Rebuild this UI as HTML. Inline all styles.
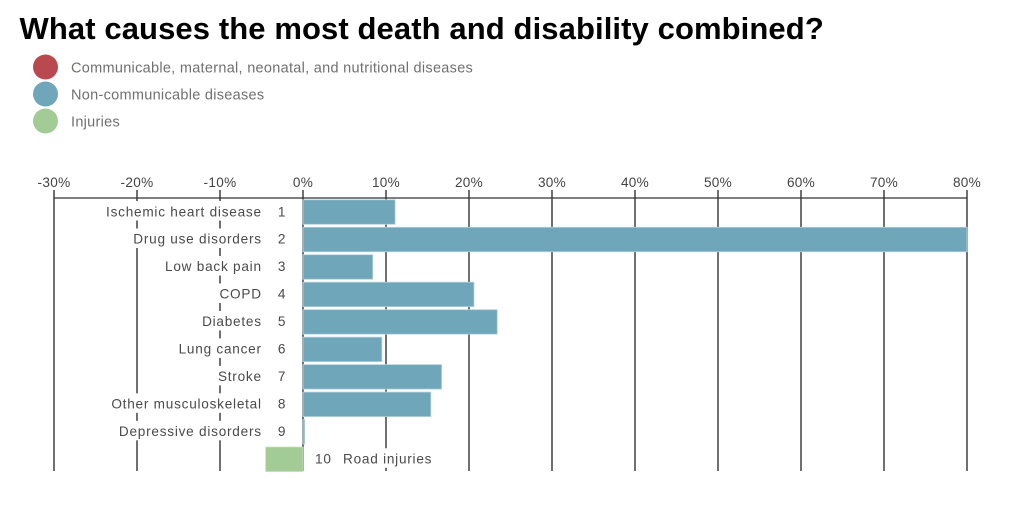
<!DOCTYPE html>
<html lang="en">
<head>
<meta charset="utf-8">
<title>What causes the most death and disability combined?</title>
<style>
html,body{margin:0;padding:0;background:#fff;width:1024px;height:518px;overflow:hidden}
svg{display:block}
text{font-family:"Liberation Sans",sans-serif}
</style>
</head>
<body>
<svg id="chart" width="1024" height="518" viewBox="0 0 1024 518" xmlns="http://www.w3.org/2000/svg">
  <text x="19.5" y="39" font-size="31" font-weight="700" fill="#000" letter-spacing="0.1">What causes the most death and disability combined?</text>
  <g>
    <g>
      <circle cx="45.5" cy="67" r="12.5" fill="#b9484f"></circle>
      <text x="71" y="72.5" font-size="14.5" fill="#707070" letter-spacing="0.29">Communicable, maternal, neonatal, and nutritional diseases</text>
    </g>
    <g>
      <circle cx="45.5" cy="94" r="12.5" fill="#6fa6ba"></circle>
      <text x="71" y="99.5" font-size="14.5" fill="#707070" letter-spacing="0.29">Non-communicable diseases</text>
    </g>
    <g>
      <circle cx="45.5" cy="121" r="12.5" fill="#a3cb96"></circle>
      <text x="71" y="126.5" font-size="14.5" fill="#707070" letter-spacing="0.29">Injuries</text>
    </g>
  </g>
  <g id="axis"></g>
  <g id="bars"></g>
  <g id="labels"></g>
</svg>
<script>
const causes = ["Ischemic heart disease","Drug use disorders","Low back pain","COPD","Diabetes","Lung cancer","Stroke","Other musculoskeletal","Depressive disorders","Road injuries"];
const ranks = [1,2,3,4,5,6,7,8,9,10];
const changes = [11.1,80,8.4,20.6,23.4,9.5,16.7,15.4,0.2,-4.5];
const groups = ["ncd","ncd","ncd","ncd","ncd","ncd","ncd","ncd","ncd","injury"];
const ticks = [-30,-20,-10,0,10,20,30,40,50,60,70,80];

const NS = "http://www.w3.org/2000/svg";
const groupColor = {ncd:"#6fa6ba", injury:"#a3cb96", cmnn:"#b9484f"};
const groupStroke = {ncd:"#b5d2dc", injury:"#c6dfbe", cmnn:"#d9a0a4"};
const xDomain = [-30,80], xRange = [54,967];
const axisY = 198, rowTop = 199.8, rowStep = 27.47, barH = 24.5, tickTop = 190, tickBottom = 471;
function x(v){ return xRange[0] + (v - xDomain[0]) * (xRange[1] - xRange[0]) / (xDomain[1] - xDomain[0]); }
function y(i){ return rowTop + i * rowStep; }
function make(tag, attrs, parent, txt){
  const el = document.createElementNS(NS, tag);
  for (const k in attrs) el.setAttribute(k, attrs[k]);
  if (txt !== undefined) el.textContent = txt;
  parent.appendChild(el);
  return el;
}
const axisG = document.getElementById("axis");
const barsG = document.getElementById("bars");
const labelsG = document.getElementById("labels");

const baseLine = make("line", {x1:x(xDomain[0]), x2:x(xDomain[1]), y1:axisY, y2:axisY, stroke:"#333", "stroke-width":1.3}, axisG);



ticks.forEach(function(t){
  const line = make("line", {x1:x(t), x2:x(t), y1:tickTop, y2:tickBottom, stroke:"#333", "stroke-width":1.4}, axisG);
  
  
  const lab = make("text", {x:x(t), y:187, "font-size":13.6, "text-anchor":"middle", fill:"#444", "letter-spacing":0.3}, axisG, t + "%");
  
  
});

changes.forEach(function(v, i){
  const left = Math.min(x(0), x(v));
  const w = Math.abs(x(v) - x(0));
  const bar = make("rect", {x:left, y:y(i), width:w, height:barH, fill:groupColor[groups[i]], stroke:groupStroke[groups[i]], "stroke-width":0.8}, barsG);
  
  

  const cy = y(i) + barH / 2;
  const base = cy + 4.2;
  const style = {"font-size":13.6, fill:"#4a4a4a", "letter-spacing":0.76};
  let nameEl, rankEl;
  if (v >= 0) {
    nameEl = make("text", Object.assign({x:261.8, y:base, "text-anchor":"end"}, style), labelsG, causes[i]);
    rankEl = make("text", Object.assign({x:282, y:base, "text-anchor":"middle"}, style), labelsG, ranks[i]);
  } else {
    rankEl = make("text", Object.assign({x:315, y:base, "text-anchor":"start"}, style), labelsG, ranks[i]);
    nameEl = make("text", Object.assign({x:343, y:base, "text-anchor":"start"}, style), labelsG, causes[i]);
  }
  
  
  
  

  const b = nameEl.getBBox();
  const halo = document.createElementNS(NS, "rect");
  halo.setAttribute("x", b.x - 2);
  halo.setAttribute("y", cy - 11);
  halo.setAttribute("width", b.width + 4);
  halo.setAttribute("height", 19.5);
  halo.setAttribute("fill", "#fff");
  
  
  labelsG.insertBefore(halo, rankEl.previousSibling === nameEl ? nameEl : rankEl);
});
</script>
</body>
</html>
